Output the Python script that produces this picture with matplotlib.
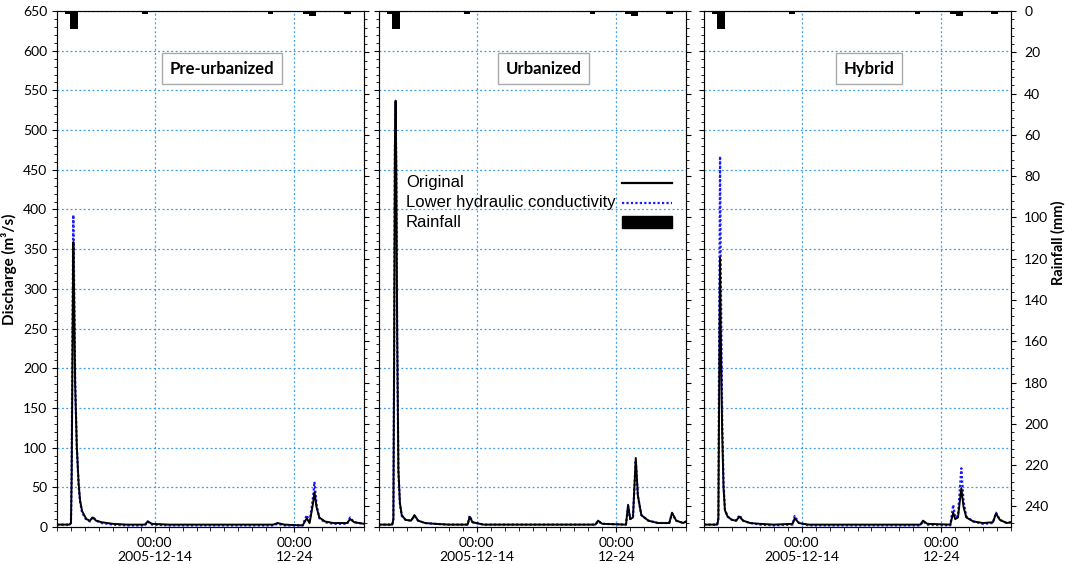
import pandas as pd
import matplotlib.pyplot as plt
import matplotlib.dates as mdates
from matplotlib.patches import Rectangle
from matplotlib.ticker import MultipleLocator

plt.rcParams['font.family'] = ['Lato', 'DejaVu Sans']

start = pd.Timestamp("2005-12-07 00:00")

# time offsets (days from start) and discharge values (m3/s)
pre_t = [0, 0.9, 1.0, 1.05, 1.12, 1.17, 1.22, 1.3, 1.42, 1.55, 1.65, 1.8, 2.1, 2.35, 2.57, 2.8, 3.2, 4, 5,
         6.3, 6.5, 6.8, 8, 15.5, 15.8, 16.3, 17.6, 17.8, 17.9, 18.1, 18.35, 18.45, 18.6, 18.8, 19.2, 19.8,
         20.8, 21.0, 21.3, 22]
pre_orig = [3, 3, 5, 60, 250, 359, 300, 180, 101, 55, 34, 20, 10, 8, 12, 8, 6, 4, 3,
            3, 7, 4, 3, 3, 5, 3, 2, 8, 11, 5, 30, 44, 25, 12, 7, 5,
            5, 10, 6, 4]
pre_low = [3, 3, 5, 70, 280, 393, 320, 185, 100, 52, 32, 18, 9, 7, 13, 8, 5, 3, 2,
           2, 7, 3, 2, 2, 4, 2, 2, 11, 15, 5, 38, 57, 28, 11, 6, 4,
           4, 12, 6, 4]

urb_t = [0, 0.95, 1.03, 1.08, 1.14, 1.19, 1.24, 1.3, 1.39, 1.5, 1.63, 1.9, 2.3, 2.54, 2.8, 3.3, 4, 5,
         6.35, 6.5, 6.7, 7.5, 15.5, 15.7, 16.0, 17.7, 17.85, 18.0, 18.2, 18.4, 18.55, 18.8, 19.3, 20.0,
         20.8, 21.0, 21.3, 21.8, 22]
urb_orig = [3, 3, 10, 200, 480, 537, 450, 250, 72, 30, 15, 9, 8, 15, 8, 5, 4, 3,
            3, 13, 6, 3, 3, 8, 4, 3, 28, 10, 12, 87, 40, 15, 8, 5,
            5, 18, 8, 5, 7]
urb_low = [3, 3, 10, 195, 475, 535, 445, 245, 70, 29, 14, 9, 8, 14, 8, 5, 4, 3,
           3, 14, 6, 3, 3, 7, 4, 3, 26, 10, 12, 84, 39, 15, 8, 5,
           5, 17, 8, 5, 7]

hyb_t = [0, 0.95, 1.03, 1.08, 1.15, 1.2, 1.3, 1.4, 1.5, 1.7, 2.0, 2.3, 2.54, 2.8, 3.3, 4, 5,
         6.35, 6.5, 6.8, 7.5, 15.5, 15.7, 16.0, 17.65, 17.86, 18.0, 18.2, 18.44, 18.6, 18.8, 19.3, 20.0,
         20.7, 20.93, 21.2, 21.7, 22]
hyb_orig = [3, 3, 10, 150, 339, 250, 120, 50, 21, 13, 9, 8, 13, 8, 5, 4, 3,
            4, 11, 5, 3, 3, 8, 4, 3, 18, 10, 12, 49, 25, 12, 7, 5,
            6, 17, 9, 5, 6]
hyb_low = [3, 3, 12, 220, 467, 330, 140, 55, 22, 13, 9, 8, 15, 8, 5, 3, 2,
           3, 14, 5, 2, 2, 7, 3, 2, 28, 12, 14, 74, 32, 13, 7, 4,
           5, 18, 9, 5, 6]

# rainfall bars: start offset (days), duration (days), depth (mm)
rain_t = [0.58, 0.94, 2.0, 6.1, 15.1, 17.6, 18.05, 20.6, 21.65]
rain_w = [0.36, 0.57, 0.5, 0.4, 0.4, 0.45, 0.5, 0.5, 0.35]
rain_mm = [1.5, 8.7, 0.7, 1.5, 1.5, 1.5, 2.2, 1.5, 0.5]

titles = ["Pre-urbanized", "Urbanized", "Hybrid"]
series = [(pre_t, pre_orig, pre_low), (urb_t, urb_orig, urb_low), (hyb_t, hyb_orig, hyb_low)]
lefts = [57, 379, 704]
legend_labels = ["Original", "Lower hydraulic conductivity", "Rainfall"]


def to_dates(days):
    return start + pd.to_timedelta(days, unit="D")


fig = plt.figure(figsize=(10.65, 5.64), dpi=100)

grid_col = "#3d9be9"
blue = "#1a1aff"
axes = []
for i, (t, orig, low) in enumerate(series):
    ax = fig.add_axes([lefts[i] / 1065, 37 / 564, 307 / 1065, 516 / 564])
    axes.append(ax)
    ax.plot(to_dates(t), low, color=blue, lw=1.6, ls=(0, (1, 1)), zorder=3)
    ax.plot(to_dates(t), orig, color="black", lw=1.4, zorder=4)
    ax.set_ylim(0, 650)
    ax.set_xlim(start, start + pd.Timedelta(days=22))
    ax.yaxis.set_major_locator(MultipleLocator(50))
    ax.yaxis.set_minor_locator(MultipleLocator(10))
    ax.xaxis.set_minor_locator(mdates.DayLocator())
    ax.set_xticks([pd.Timestamp("2005-12-14"), pd.Timestamp("2005-12-24")])
    ax.set_xticklabels(["00:00\n2005-12-14", "00:00\n12-24"], fontsize=10)
    ax.grid(True, color=grid_col, ls=(0, (1.5, 2)), lw=0.9)
    ax.tick_params(axis="y", which="both", direction="out", right=True, labelsize=10)
    ax.tick_params(axis="y", which="minor", length=2)
    ax.tick_params(axis="x", which="minor", length=3)
    for s in ax.spines.values():
        s.set_color("#555555")
    if i > 0:
        ax.tick_params(axis="y", labelleft=False)

    rx = ax.twinx()
    rx.bar(to_dates(rain_t), rain_mm, width=rain_w, align="edge", color="black", zorder=5)
    rx.set_ylim(250, 0)
    rx.set_xlim(start, start + pd.Timedelta(days=22))
    rx.yaxis.set_major_locator(MultipleLocator(20))
    rx.yaxis.set_minor_locator(MultipleLocator(4))
    rx.tick_params(axis="y", which="minor", length=2)
    if i < 2:
        rx.tick_params(axis="y", which="both", labelright=False)
    else:
        rx.tick_params(axis="y", labelsize=10, pad=6)
        rx.set_ylabel("Rainfall (mm)", fontsize=10.5, fontweight="bold",
                      rotation=90, va="center", ha="center")
        rx.yaxis.set_label_coords(1.155, 0.55)

    ax.text(0.537, 0.888, titles[i], transform=ax.transAxes, ha="center", va="center",
            fontsize=12, fontweight="bold", zorder=6,
            bbox=dict(boxstyle="square,pad=0.45", fc="white", ec="#aaaaaa", lw=1))

axes[0].set_ylabel("Discharge (m³/s)", fontsize=11, fontweight="bold")
axes[0].yaxis.set_label_coords(-0.13, 0.5)

# legend drawn by hand: label on the left, key on the right
lax = axes[1]
rows = [0.667, 0.628, 0.591]
for lab, y in zip(legend_labels, rows):
    lax.text(0.088, y, lab, transform=lax.transAxes, ha="left", va="center",
             family="Liberation Sans", fontsize=12, zorder=10)
lax.plot([0.79, 0.955], [rows[0], rows[0]], transform=lax.transAxes, color="black", lw=1.6, zorder=10)
lax.plot([0.79, 0.955], [rows[1], rows[1]], transform=lax.transAxes, color=blue, lw=1.6,
         ls=(0, (1, 1)), zorder=10)
lax.add_patch(Rectangle((0.79, rows[2] - 0.011), 0.165, 0.022, transform=lax.transAxes,
                        color="black", zorder=10))

fig.savefig("out.png", dpi=100)
plt.close()
